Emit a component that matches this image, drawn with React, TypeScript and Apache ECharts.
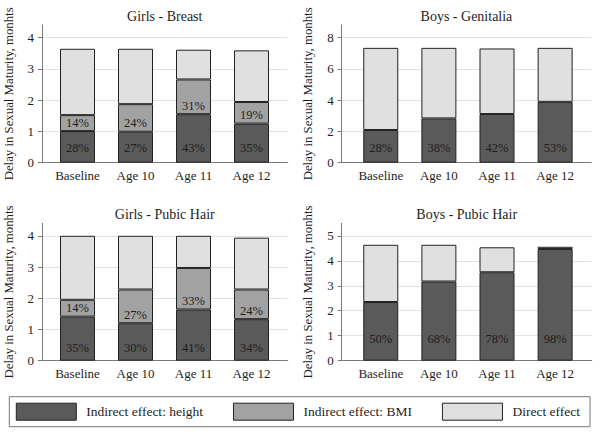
import React, { useEffect, useRef } from "react";
import * as echarts from "echarts";

const categories = ["Baseline", "Age 10", "Age 11", "Age 12"];
const seriesNames = ["Indirect effect: height", "Indirect effect: BMI", "Direct effect"];
const panelTitles = ["Girls - Breast", "Boys - Genitalia", "Girls - Pubic Hair", "Boys - Pubic Hair"];
const yAxisTitle = "Delay in Sexual Maturity, monhts";

// Girls - Breast
const gbHeight = [1.01, 0.99, 1.55, 1.25];
const gbBMI = [0.51, 0.88, 1.11, 0.69];
const gbDirect = [2.12, 1.77, 0.95, 1.65];
const gbHeightPct = [28, 27, 43, 35];
const gbBMIPct = [14, 24, 31, 19];

// Boys - Genitalia
const bgHeight = [2.09, 2.83, 3.11, 3.89];
const bgDirect = [5.25, 4.51, 4.19, 3.45];
const bgHeightPct = [28, 38, 42, 53];

// Girls - Pubic Hair
const gpHeight = [1.41, 1.2, 1.64, 1.33];
const gpBMI = [0.54, 1.08, 1.33, 0.95];
const gpDirect = [2.05, 1.72, 1.03, 1.66];
const gpHeightPct = [35, 30, 41, 34];
const gpBMIPct = [14, 27, 33, 24];

// Boys - Pubic Hair
const bpHeight = [2.35, 3.17, 3.54, 4.47];
const bpDirect = [2.29, 1.47, 1.0, 0.09];
const bpHeightPct = [50, 68, 78, 98];

// Y tick labels
const yTicksGirls = [0, 1, 2, 3, 4];
const yTicksBoysGen = [0, 2, 4, 6, 8];
const yTicksBoysPub = [0, 1, 2, 3, 4, 5];

const FONT = "Liberation Serif";
const C_HEIGHT = "#5a5a5a";
const C_BMI = "#a2a2a2";
const C_DIRECT = "#e0e0e0";
const AXIS_C = "#7a7a7a";
const TEXT_C = "#1e1e1e";

export default function App() {
  const ref = useRef<HTMLDivElement>(null);
  useEffect(() => {
    const chart = echarts.init(ref.current!, undefined, { renderer: "svg" });

    // outer frame (axis lines, gridlines) and inner band area (bars)
    const panels = [
      { left: 42, top: 25, width: 245.5, height: 137.7, inL: 48.5, inW: 232 },
      { left: 341.7, top: 25, width: 249.5, height: 137.7, inL: 351.7, inW: 232.5 },
      { left: 42, top: 223.3, width: 245.5, height: 137.4, inL: 48.5, inW: 232 },
      { left: 341.7, top: 223.3, width: 250, height: 137.4, inL: 351.7, inW: 232.5 },
    ];
    const yMax = [4.4, 8.8, 4.4, 5.5];
    const yInt = [1, 2, 1, 1];
    const yTicks = [yTicksGirls, yTicksBoysGen, yTicksGirls, yTicksBoysPub];

    const grids: any[] = [];
    const xAxes: any[] = [];
    const yAxes: any[] = [];
    panels.forEach((p, i) => {
      grids.push({ left: p.left, top: p.top, width: p.width, height: p.height });
      grids.push({ left: p.inL, top: p.top, width: p.inW, height: p.height });
      xAxes.push({
        type: "value",
        gridIndex: 2 * i,
        min: 0,
        max: 1,
        splitLine: { show: false },
        axisTick: { show: false },
        axisLabel: { show: false },
        axisLine: { show: true, onZero: false, lineStyle: { color: AXIS_C, width: 1 } },
      });
      xAxes.push({
        type: "category",
        gridIndex: 2 * i + 1,
        data: categories,
        axisLine: { show: false },
        axisTick: { show: false },
        splitLine: { show: false },
        axisLabel: { fontFamily: FONT, fontSize: 13, color: TEXT_C, margin: 6, interval: 0 },
      });
      yAxes.push({
        type: "value",
        gridIndex: 2 * i,
        min: 0,
        max: yMax[i],
        interval: yInt[i],
        name: yAxisTitle,
        nameLocation: "middle",
        nameRotate: 90,
        nameGap: 27,
        nameTextStyle: { fontFamily: FONT, fontSize: 12.8, color: TEXT_C },
        axisLine: { show: true, onZero: false, lineStyle: { color: AXIS_C, width: 1 } },
        axisTick: { show: true, length: 4, customValues: yTicks[i], lineStyle: { color: AXIS_C } },
        axisLabel: { customValues: yTicks[i], fontFamily: FONT, fontSize: 13, color: TEXT_C, margin: 8 },
        splitLine: { show: true, lineStyle: { color: "#e2e2e2", width: 1 } },
      });
      yAxes.push({
        type: "value",
        gridIndex: 2 * i + 1,
        min: 0,
        max: yMax[i],
        interval: yInt[i],
        show: false,
        splitLine: { show: false },
      });
    });

    const labelStyle = (pcts: number[], dist: number) => ({
      show: true,
      position: "insideBottom",
      distance: dist,
      fontFamily: FONT,
      fontSize: 12.5,
      color: TEXT_C,
      formatter: (p: any) => `${pcts[p.dataIndex]}%`,
    });

    const bar = (name: string, values: number[], pi: number, color: string, label: any) => ({
      type: "bar",
      name,
      xAxisIndex: 2 * pi + 1,
      yAxisIndex: 2 * pi + 1,
      stack: "s" + pi,
      barWidth: 35,
      data: values,
      itemStyle: { color, borderColor: "#222", borderWidth: 1 },
      label: label ?? { show: false },
    });

    const series = [
      bar(seriesNames[0], gbHeight, 0, C_HEIGHT, labelStyle(gbHeightPct, 8)),
      bar(seriesNames[1], gbBMI, 0, C_BMI, labelStyle(gbBMIPct, 2)),
      bar(seriesNames[2], gbDirect, 0, C_DIRECT, null),
      bar(seriesNames[0], bgHeight, 1, C_HEIGHT, labelStyle(bgHeightPct, 8)),
      bar(seriesNames[2], bgDirect, 1, C_DIRECT, null),
      bar(seriesNames[0], gpHeight, 2, C_HEIGHT, labelStyle(gpHeightPct, 6)),
      bar(seriesNames[1], gpBMI, 2, C_BMI, labelStyle(gpBMIPct, 2)),
      bar(seriesNames[2], gpDirect, 2, C_DIRECT, null),
      bar(seriesNames[0], bpHeight, 3, C_HEIGHT, labelStyle(bpHeightPct, 15)),
      bar(seriesNames[2], bpDirect, 3, C_DIRECT, null),
    ];

    const titles = panels.map((g, i) => ({
      text: panelTitles[i],
      left: g.left + g.width / 2,
      top: i < 2 ? 9 : 207.5,
      textAlign: "center",
      padding: 0,
      textStyle: { fontFamily: FONT, fontSize: 14, fontWeight: "normal", color: TEXT_C },
    }));

    chart.setOption({
      animation: false,
      backgroundColor: "#ffffff",
      title: titles,
      grid: grids,
      xAxis: xAxes,
      yAxis: yAxes,
      legend: {
        data: seriesNames,
        left: 9.3,
        top: 396.7,
        orient: "horizontal",
        padding: [6, 10, 6, 6.5],
        itemWidth: 60,
        itemHeight: 17,
        itemGap: 30,
        icon: "rect",
        borderColor: "#777",
        borderWidth: 1,
        selectedMode: false,
        itemStyle: { borderColor: "#222", borderWidth: 1 },
        textStyle: { fontFamily: FONT, fontSize: 13.5, color: TEXT_C, padding: [0, 0, 0, 5] },
      },
      series,
    });

    return () => chart.dispose();
  }, []);

  return (
    <div
      ref={ref}
      style={{ position: "absolute", left: 0, top: 0, width: 604, height: 439, background: "#fff" }}
    />
  );
}
